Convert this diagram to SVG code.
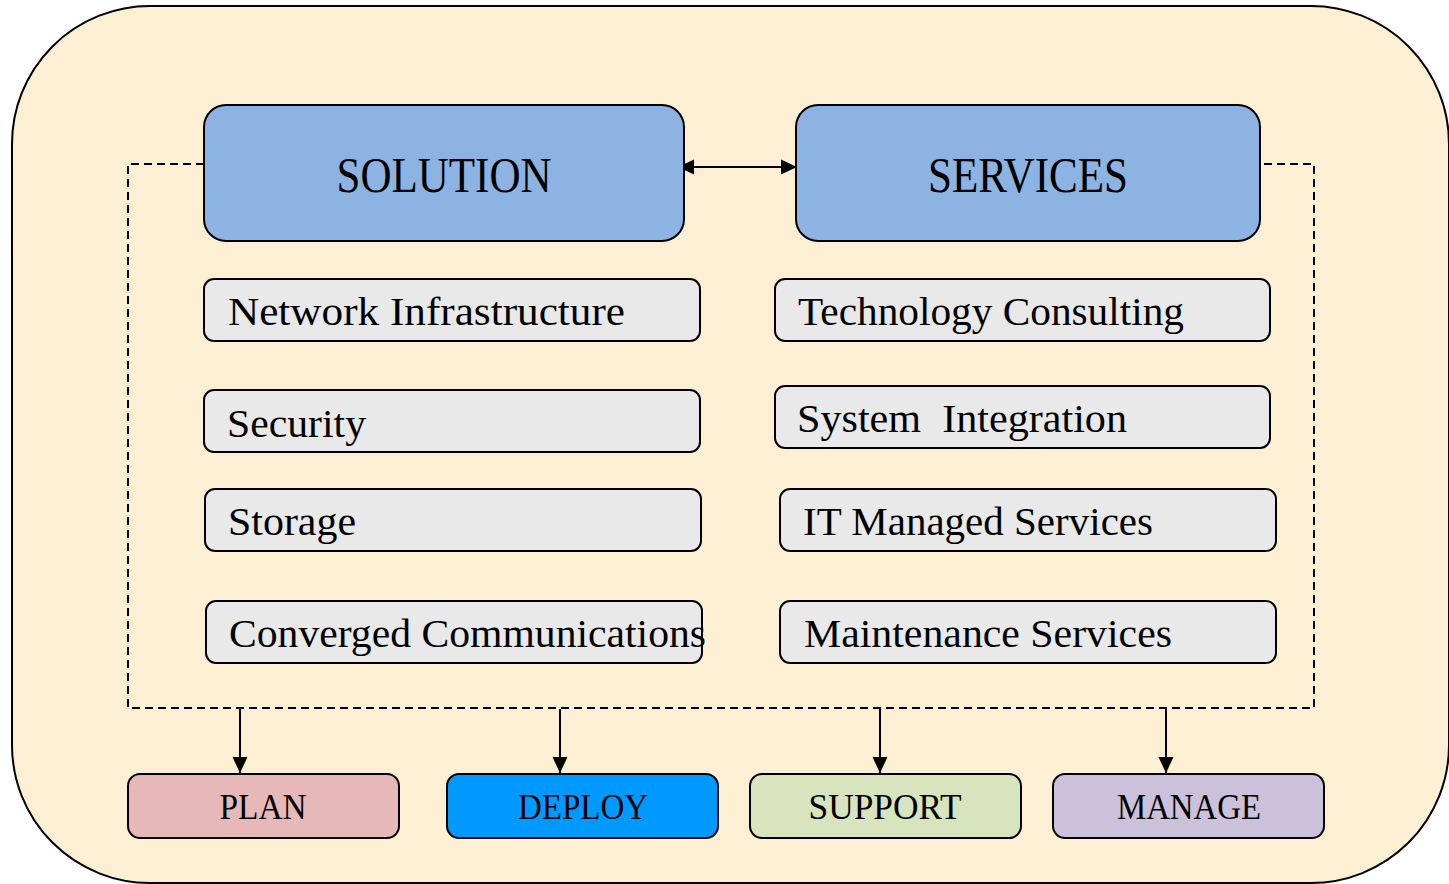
<svg xmlns="http://www.w3.org/2000/svg" width="1449" height="884" viewBox="0 0 1449 884">
  <defs>
    <marker id="ah" viewBox="0 0 16 16" refX="16" refY="8" markerWidth="16" markerHeight="16" markerUnits="userSpaceOnUse" orient="auto-start-reverse">
      <path d="M0,0.5 L16,8 L0,15.5 Z" fill="#000"/>
    </marker>
  </defs>
  <style>
    text { font-family: "Liberation Serif", "Times New Roman", serif; fill: #000; }
    .big { fill: #8DB3E2; stroke: #000; stroke-width: 2; }
    .item { fill: #E9E9E9; stroke: #000; stroke-width: 2; }
    .phase { stroke: #000; stroke-width: 2; }
    .t-big { font-size: 50px; text-anchor: middle; }
    .t-item { font-size: 40px; }
    .t-phase { font-size: 36px; text-anchor: middle; }
    .conn { stroke: #000; stroke-width: 2; fill: none; }
    .dash { stroke: #000; stroke-width: 2; fill: none; stroke-dasharray: 8 5; }
  </style>

  <rect width="1449" height="884" fill="#FFFFFF"/>
  <g id="frame">
    <rect x="12" y="6" width="1437" height="877" rx="138" ry="138" fill="#FCEFD4" stroke="#000" stroke-width="2"/>
  </g>

  <g id="connectors">
    <path class="dash" d="M204,164 H128 V708 H1314 V164 H1260"/>
    <line class="conn" x1="678" y1="167" x2="797" y2="167" marker-start="url(#ah)" marker-end="url(#ah)"/>
    <line class="conn" x1="240" y1="709" x2="240" y2="773" marker-end="url(#ah)"/>
    <line class="conn" x1="560" y1="709" x2="560" y2="773" marker-end="url(#ah)"/>
    <line class="conn" x1="880" y1="709" x2="880" y2="773" marker-end="url(#ah)"/>
    <line class="conn" x1="1166" y1="709" x2="1166" y2="773" marker-end="url(#ah)"/>
  </g>

  <g id="solution">
    <rect class="big" x="204" y="105" width="480" height="136" rx="22"/>
    <text class="t-big" x="444" y="192" textLength="215" lengthAdjust="spacingAndGlyphs">SOLUTION</text>
  </g>
  <g id="services">
    <rect class="big" x="796" y="105" width="464" height="136" rx="22"/>
    <text class="t-big" x="1028" y="192" textLength="200" lengthAdjust="spacingAndGlyphs">SERVICES</text>
  </g>

  <g id="network-infrastructure">
    <rect class="item" x="204" y="279" width="496" height="62" rx="10"/>
    <text class="t-item" x="228" y="325" textLength="397" lengthAdjust="spacingAndGlyphs">Network Infrastructure</text>
  </g>
  <g id="security">
    <rect class="item" x="204" y="390" width="496" height="62" rx="10"/>
    <text class="t-item" x="227" y="437" textLength="139" lengthAdjust="spacingAndGlyphs">Security</text>
  </g>
  <g id="storage">
    <rect class="item" x="205" y="489" width="496" height="62" rx="10"/>
    <text class="t-item" x="228" y="535" textLength="128" lengthAdjust="spacingAndGlyphs">Storage</text>
  </g>
  <g id="converged-communications">
    <rect class="item" x="206" y="601" width="496" height="62" rx="10"/>
    <text class="t-item" x="229" y="647" textLength="477" lengthAdjust="spacingAndGlyphs">Converged Communications</text>
  </g>

  <g id="technology-consulting">
    <rect class="item" x="775" y="279" width="495" height="62" rx="10"/>
    <text class="t-item" x="798" y="325" textLength="386" lengthAdjust="spacingAndGlyphs">Technology Consulting</text>
  </g>
  <g id="system-integration">
    <rect class="item" x="775" y="386" width="495" height="62" rx="10"/>
    <text class="t-item" x="797" y="432" textLength="330" lengthAdjust="spacingAndGlyphs" xml:space="preserve">System  Integration</text>
  </g>
  <g id="it-managed-services">
    <rect class="item" x="780" y="489" width="496" height="62" rx="10"/>
    <text class="t-item" x="803" y="535" textLength="350" lengthAdjust="spacingAndGlyphs">IT Managed Services</text>
  </g>
  <g id="maintenance-services">
    <rect class="item" x="780" y="601" width="496" height="62" rx="10"/>
    <text class="t-item" x="804" y="647" textLength="368" lengthAdjust="spacingAndGlyphs">Maintenance Services</text>
  </g>

  <g id="plan">
    <rect class="phase" x="128" y="774" width="271" height="64" rx="12" fill="#E6B8B7"/>
    <text class="t-phase" x="263" y="819" textLength="87" lengthAdjust="spacingAndGlyphs">PLAN</text>
  </g>
  <g id="deploy">
    <rect class="phase" x="447" y="774" width="271" height="64" rx="12" fill="#0099FF"/>
    <text class="t-phase" x="583" y="819" textLength="130" lengthAdjust="spacingAndGlyphs">DEPLOY</text>
  </g>
  <g id="support">
    <rect class="phase" x="750" y="774" width="271" height="64" rx="12" fill="#D7E4BD"/>
    <text class="t-phase" x="885" y="819" textLength="153" lengthAdjust="spacingAndGlyphs">SUPPORT</text>
  </g>
  <g id="manage">
    <rect class="phase" x="1053" y="774" width="271" height="64" rx="12" fill="#CCC1DA"/>
    <text class="t-phase" x="1189" y="819" textLength="144" lengthAdjust="spacingAndGlyphs">MANAGE</text>
  </g>
</svg>
